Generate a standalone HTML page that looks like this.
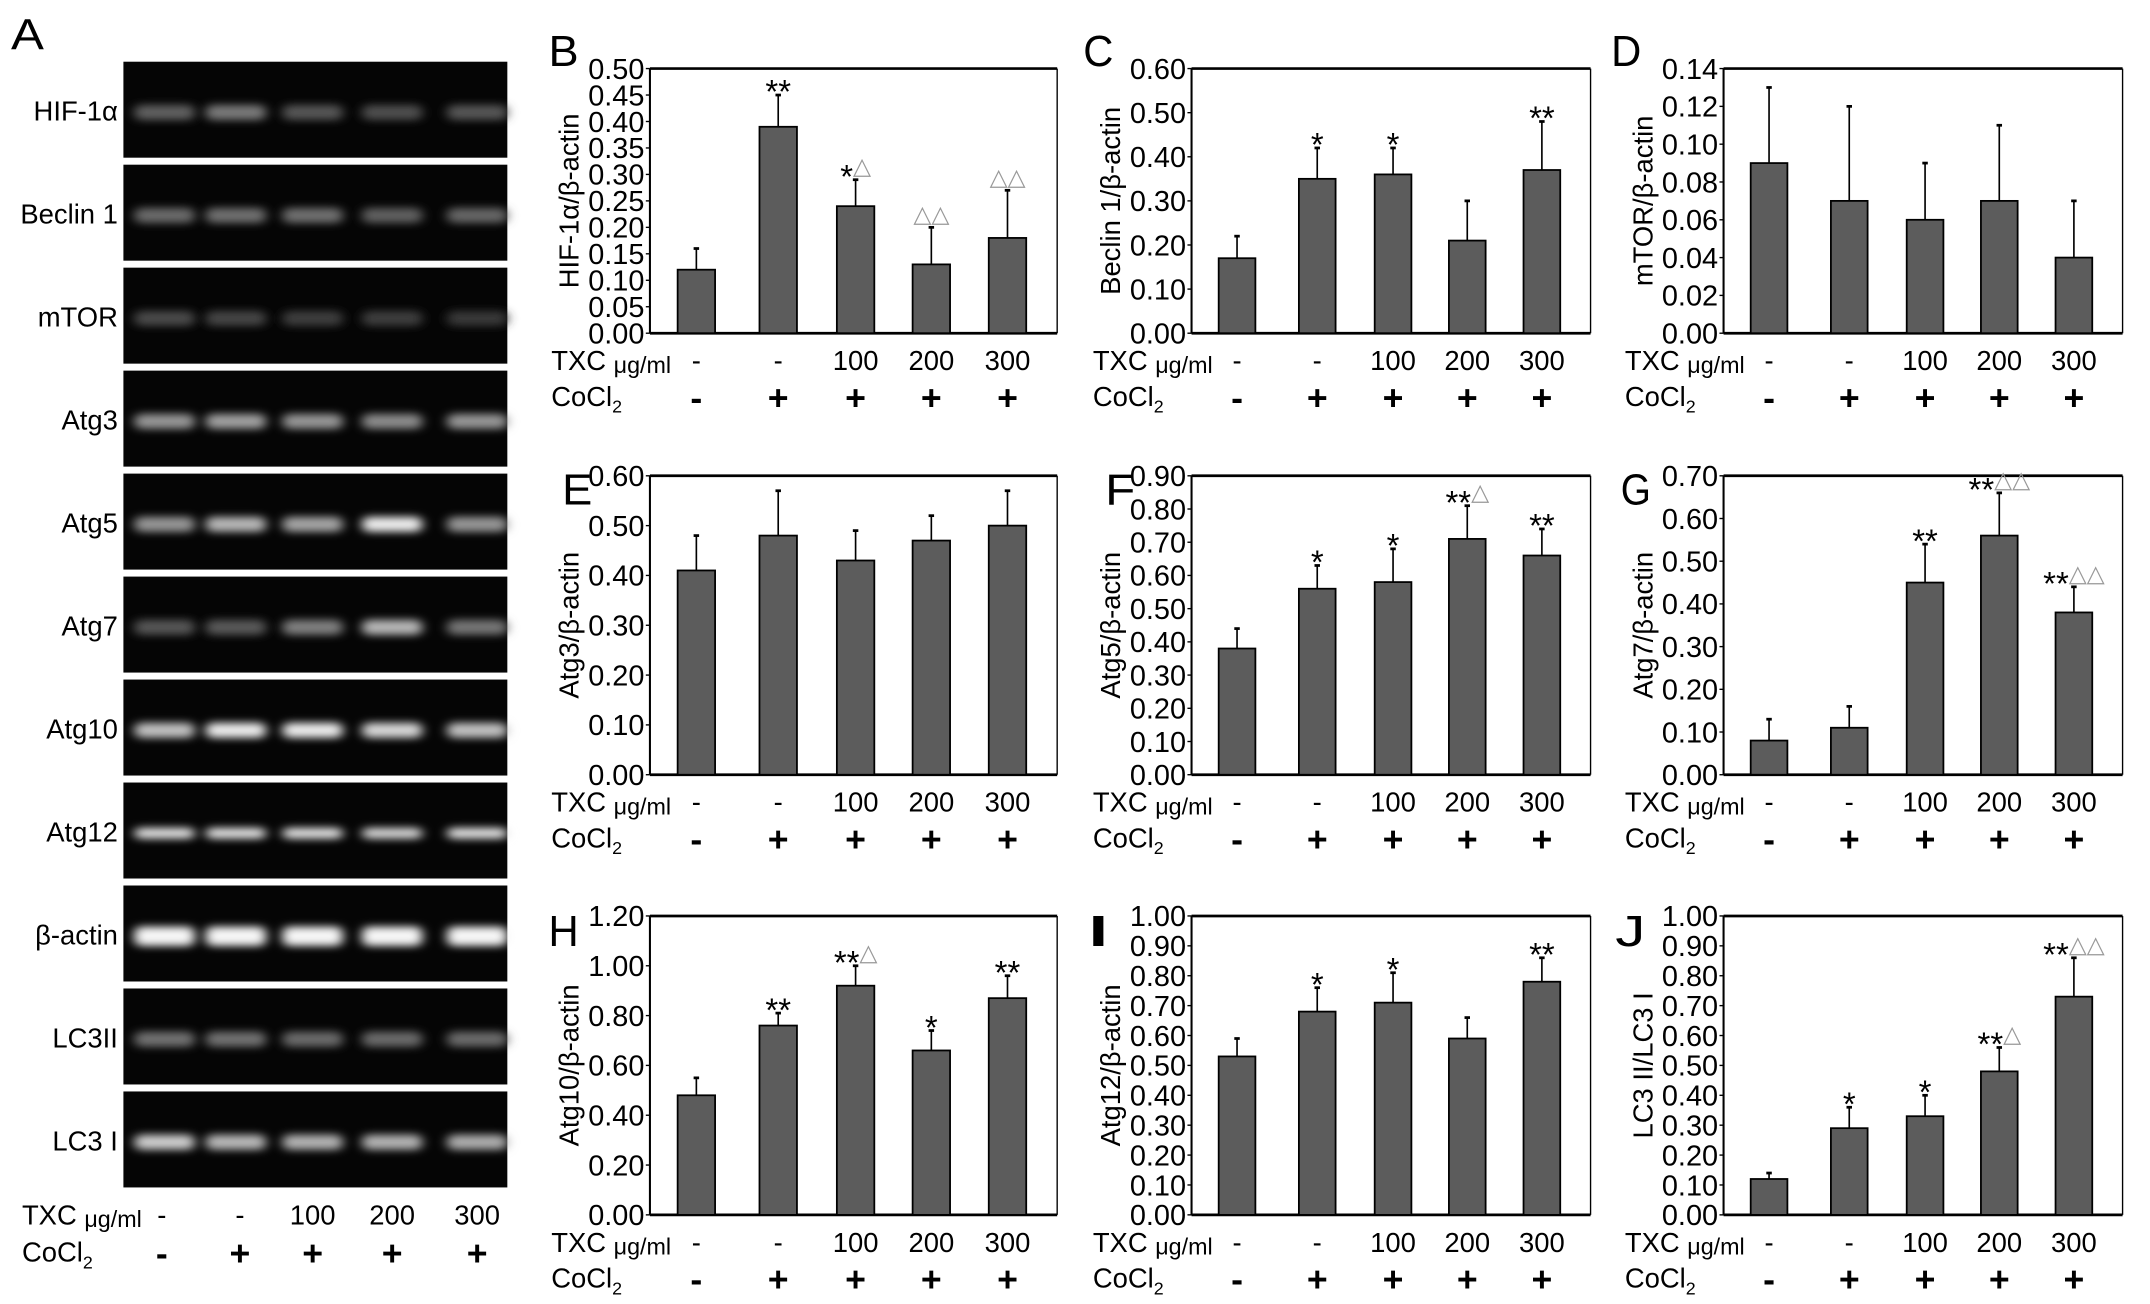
<!DOCTYPE html>
<html><head><meta charset="utf-8">
<style>
html,body{margin:0;padding:0;background:#fff;}
svg{display:block;}
text{font-family:"Liberation Sans",sans-serif;fill:#000;}
</style></head>
<body>
<svg id="fig" width="2150" height="1304" viewBox="0 0 1568 951" xmlns="http://www.w3.org/2000/svg">
<defs>
<filter id="blur" x="-50%" y="-100%" width="200%" height="300%"><feGaussianBlur stdDeviation="4 3"/></filter>
</defs>
</svg>
<script>
// ===== Gel data =====
const gelRows = ["HIF-1α","Beclin 1","mTOR","Atg3","Atg5","Atg7","Atg10","Atg12","β-actin","LC3II","LC3 I"];
const gelIntensity = [
 [0.3,0.42,0.25,0.22,0.25],
 [0.35,0.37,0.37,0.3,0.33],
 [0.2,0.18,0.15,0.15,0.12],
 [0.55,0.6,0.55,0.5,0.55],
 [0.55,0.7,0.62,0.95,0.55],
 [0.25,0.27,0.45,0.7,0.4],
 [0.75,0.95,0.95,0.85,0.75],
 [0.9,0.9,0.9,0.85,0.9],
 [1.0,1.0,1.0,1.0,1.0],
 [0.38,0.38,0.35,0.35,0.35],
 [0.8,0.7,0.68,0.68,0.65]
];
const txcLabels = ["-","-","100","200","300"];
const cocl2Labels = ["-","+","+","+","+"];

// ===== Chart data =====
const panelLetters = ["B","C","D","E","F","G","H","I","J"];
const yTitles = ["HIF-1α/β-actin","Beclin 1/β-actin","mTOR/β-actin","Atg3/β-actin","Atg5/β-actin","Atg7/β-actin","Atg10/β-actin","Atg12/β-actin","LC3 II/LC3 I"];
const yMax = [0.5,0.6,0.14,0.6,0.9,0.7,1.2,1.0,1.0];
const yStep = [0.05,0.1,0.02,0.1,0.1,0.1,0.2,0.1,0.1];
const meansB = [0.12,0.39,0.24,0.13,0.18];
const errB = [0.16,0.45,0.29,0.20,0.27];
const meansC = [0.17,0.35,0.36,0.21,0.37];
const errC = [0.22,0.42,0.42,0.30,0.48];
const meansD = [0.09,0.07,0.06,0.07,0.04];
const errD = [0.13,0.12,0.09,0.11,0.07];
const meansE = [0.41,0.48,0.43,0.47,0.50];
const errE = [0.48,0.57,0.49,0.52,0.57];
const meansF = [0.38,0.56,0.58,0.71,0.66];
const errF = [0.44,0.63,0.68,0.81,0.74];
const meansG = [0.08,0.11,0.45,0.56,0.38];
const errG = [0.13,0.16,0.54,0.66,0.44];
const meansH = [0.48,0.76,0.92,0.66,0.87];
const errH = [0.55,0.81,1.00,0.74,0.96];
const meansI = [0.53,0.68,0.71,0.59,0.78];
const errI = [0.59,0.76,0.81,0.66,0.86];
const meansJ = [0.12,0.29,0.33,0.48,0.73];
const errJ = [0.14,0.36,0.40,0.56,0.86];
const starsB = ["","**","*","",""], triB = ["","","△","△△","△△"];
const starsC = ["","*","*","","**"], triC = ["","","","",""];
const starsD = ["","","","",""], triD = ["","","","",""];
const starsE = ["","","","",""], triE = ["","","","",""];
const starsF = ["","*","*","**","**"], triF = ["","","","△",""];
const starsG = ["","","**","**","**"], triG = ["","","","△△","△△"];
const starsH = ["","**","**","*","**"], triH = ["","","△","",""];
const starsI = ["","*","*","","**"], triI = ["","","","",""];
const starsJ = ["","*","*","**","**"], triJ = ["","","","△","△△"];

const allMeans=[meansB,meansC,meansD,meansE,meansF,meansG,meansH,meansI,meansJ];
const allErr=[errB,errC,errD,errE,errF,errG,errH,errI,errJ];
const allStars=[starsB,starsC,starsD,starsE,starsF,starsG,starsH,starsI,starsJ];
const allTri=[triB,triC,triD,triE,triF,triG,triH,triI,triJ];

const NS="http://www.w3.org/2000/svg";
const svg=document.getElementById('fig');
function mk(tag,attrs,parent,txt){const e=document.createElementNS(NS,tag);for(const k in attrs)e.setAttribute(k,attrs[k]);if(txt!==undefined)e.textContent=txt;(parent||svg).appendChild(e);return e;}

// ===== Panel A =====
const gA=mk('g',{});


const la=mk('text',{x:8,y:36,'font-size':32,textLength:24,lengthAdjust:'spacingAndGlyphs'},gA,'A');


const laneX=[120,172,228,286,348];
gelRows.forEach((name,i)=>{
  const y0=45+i*75.1, h=70;
  const g=mk('g',{},gA);
  
  
  mk('rect',{x:90,y:y0,width:280,height:h,fill:'#050505'},g);
  gelIntensity[i].forEach((v,j)=>{
    const c=Math.round(30+215*v);
    const bh= name==="β-actin"?14:(name==="Atg12"?8:11);
    const b=mk('rect',{x:laneX[j]-22,y:y0+h/2-bh/2+2,width:44,height:bh,rx:5,fill:`rgb(${c},${c},${c})`,filter:'url(#blur)'},g);
    
    
  });
  const t=mk('text',{x:86,y:y0+h/2+8,'text-anchor':'end','font-size':20},g,name);
  
  
});
function condRows(parent,xLeft,centers,yT,yC){
  const t1=mk('text',{x:xLeft,y:yT,'font-size':20},parent);
  
  
  mk('tspan',{},t1,'TXC ');
  mk('tspan',{'font-size':17,dy:2},t1,'μg/ml');
  const t2=mk('text',{x:xLeft,y:yC,'font-size':20},parent);
  
  
  mk('tspan',{},t2,'CoCl');
  mk('tspan',{'font-size':13,dy:5},t2,'2');
  centers.forEach((cx,j)=>{
    mk('text',{x:cx,y:yT,'text-anchor':'middle','font-size':20},parent,txcLabels[j]);
    mk('text',{x:cx,y:yC+3,'text-anchor':'middle','font-size':26,'font-weight':'bold'},parent,cocl2Labels[j]);
  });
}
condRows(gA,16,[118,175,228,286,348],893,920);

// ===== Charts =====
const colX=[474,869,1257], colR=[771,1160,1548];
const rowTop=[50,347,668], rowBot=[243,565,886];
const letterPos=[[400,48],[790,48],[1175,48],[410,368],[806,368],[1182,368],[400,690],[790,690],[1178,690]];
const fracs=[0.114,0.315,0.505,0.691,0.878];
for(let p=0;p<9;p++){
  const r=Math.floor(p/3), c=p%3;
  const L=colX[c], T=rowTop[r], B=rowBot[r], W=colR[c]-colX[c];
  const g=mk('g',{});
  
  
  const yS=v=>B-(v/yMax[p])*(B-T);
  const xS=j=>L+fracs[j]*W;
  const bw=0.092*W;
  const lt=mk('text',{x:letterPos[p][0],y:letterPos[p][1],'font-size':32,textLength:22,lengthAdjust:'spacingAndGlyphs'},g,panelLetters[p]);
  
  
  mk('line',{x1:L,y1:T,x2:L+W,y2:T,stroke:'#000','stroke-width':2},g);
  mk('line',{x1:L,y1:B,x2:L+W,y2:B,stroke:'#000','stroke-width':2},g);
  mk('line',{x1:L,y1:T,x2:L,y2:B,stroke:'#000','stroke-width':1.5},g);
  mk('line',{x1:L+W,y1:T,x2:L+W,y2:B,stroke:'#000','stroke-width':1},g);
  const n=Math.round(yMax[p]/yStep[p]);
  for(let k=0;k<=n;k++){
    const v=k*yStep[p], y=yS(v);
    mk('line',{x1:L-3,y1:y,x2:L,y2:y,stroke:'#000','stroke-width':1},g);
    const tl=mk('text',{x:L-4,y:y+7.5,'text-anchor':'end','font-size':21,textLength:41,lengthAdjust:'spacingAndGlyphs'},g,v.toFixed(2));
    
    
  }
  const ty=mk('text',{x:0,y:0,'text-anchor':'middle','font-size':20,transform:`translate(${L-52},${(T+B)/2}) rotate(-90)`},g,yTitles[p]);
  
  
  allMeans[p].forEach((m,j)=>{
    const cx=xS(j), yt=yS(m), ye=yS(allErr[p][j]);
    mk('line',{x1:cx,y1:yt,x2:cx,y2:ye,stroke:'#000','stroke-width':1.2},g);
    mk('line',{x1:cx-2,y1:ye,x2:cx+2,y2:ye,stroke:'#000','stroke-width':2},g);
    const bar=mk('rect',{x:cx-bw/2,y:yt,width:bw,height:B-yt,fill:'#5c5c5c',stroke:'#000','stroke-width':1.3},g);
    
    
    const s=allStars[p][j], tr=allTri[p][j];
    if(s||tr){
      const an=mk('text',{x:cx,y:ye+(s?6:-4),'text-anchor':'middle','font-size':24},g);
      
      
      if(s){mk('tspan',{},an,s);}
      if(tr){mk('tspan',{fill:'#999','font-size':17,dy:s?-10:0},an,tr);}
    }
  });
  condRows(g,L-72,fracs.map((f,j)=>xS(j)),B+27,B+53);
}
</script>
</body></html>
